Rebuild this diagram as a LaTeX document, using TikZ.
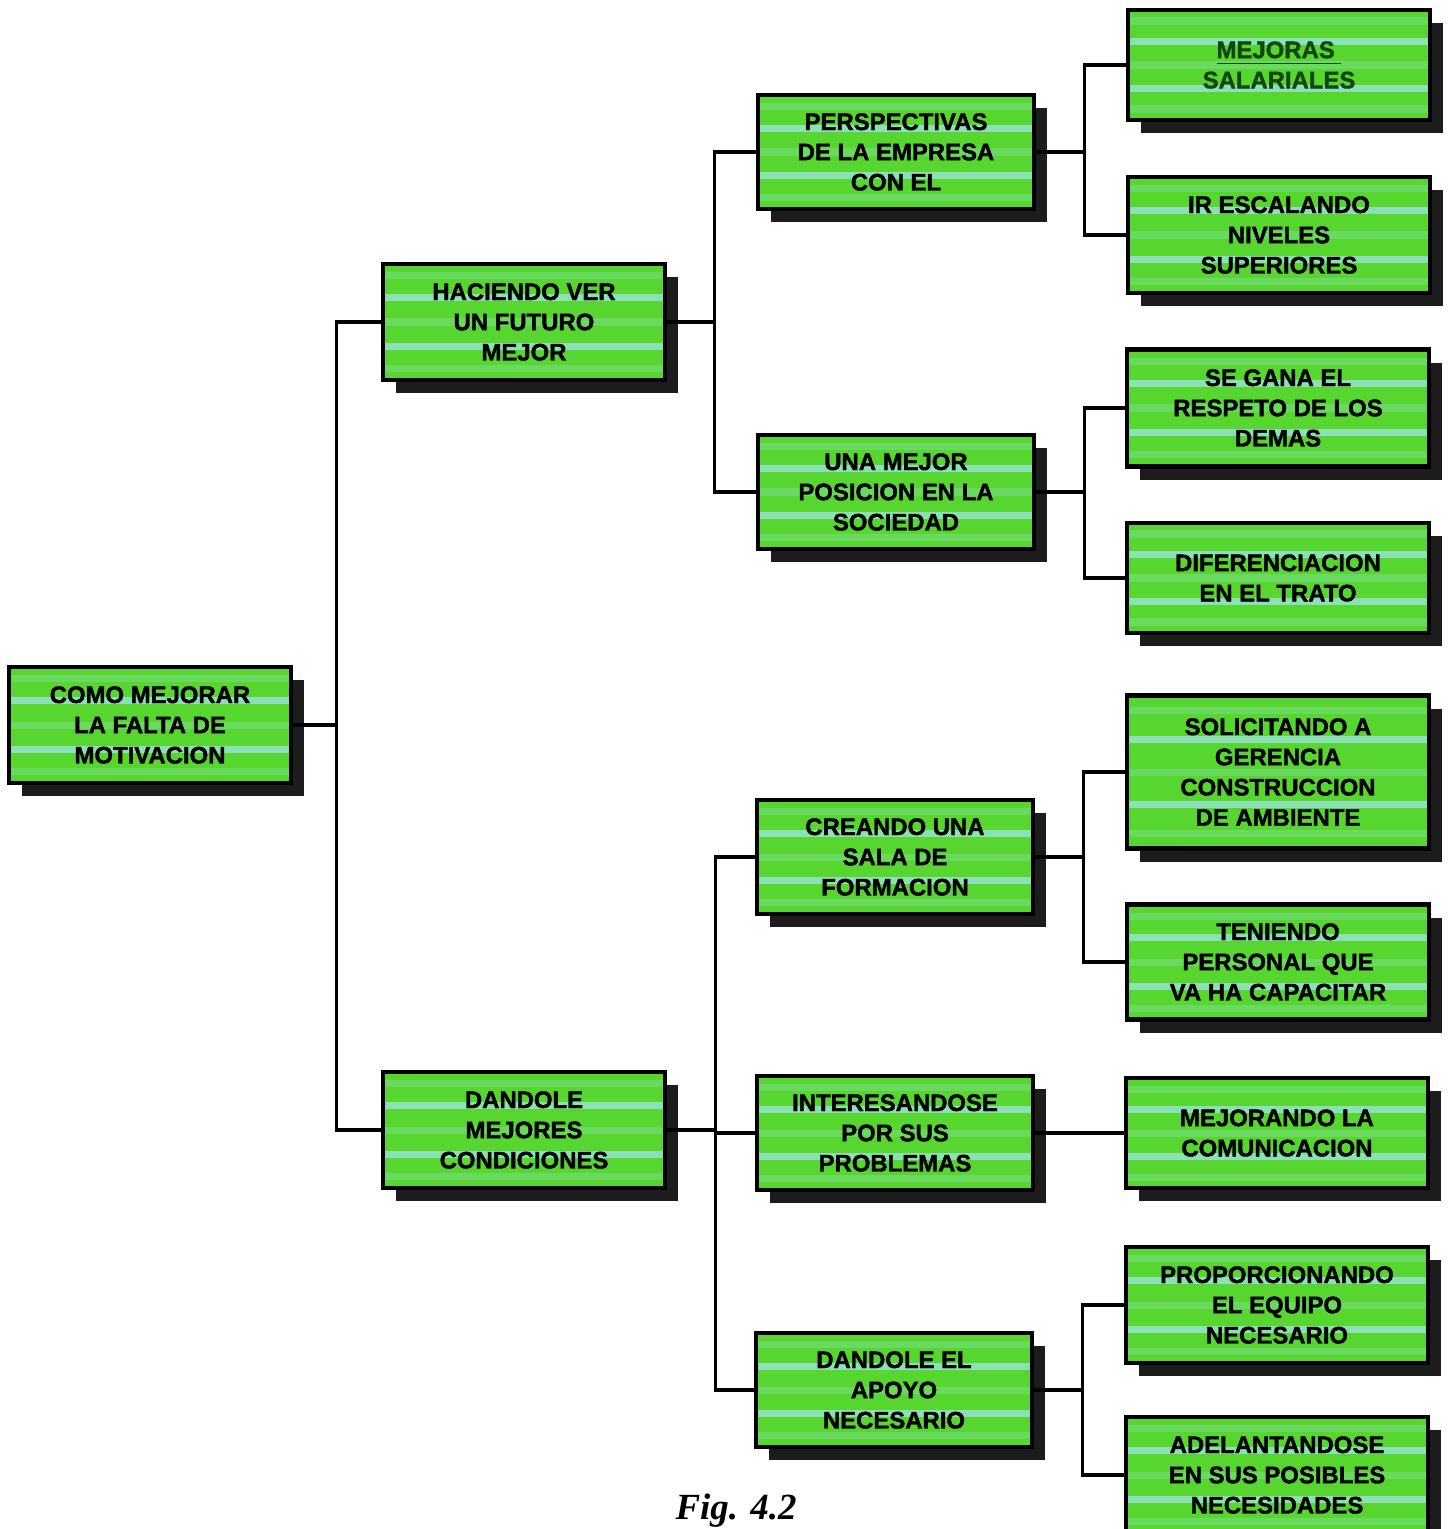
\documentclass[tikz,border=0pt]{standalone}
\usepackage{fontspec}
\usepackage{tikz}
\usetikzlibrary{positioning}
\usetikzlibrary{calc}
\usetikzlibrary{shadows}
\newfontfamily\boxfont{Liberation Sans}[BoldFeatures={FakeBold=1.6}]
\newfontfamily\capfont{Liberation Serif}
\definecolor{boxgreen}{RGB}{88,214,48}
\definecolor{stripecol}{RGB}{150,226,205}
\definecolor{shadecol}{RGB}{28,28,28}
\definecolor{darkgreen}{RGB}{18,70,20}
\tikzset{every picture/.style={
    every path/.style={line width=1pt},
}}
\tikzset{box/.style = {draw=black, line width=1.3pt, fill=boxgreen,
    align=center, inner sep=0pt,
    font=\boxfont\bfseries\fontsize{6.8}{8.6}\selectfont,
    general shadow={fill=shadecol, shadow xshift=0.13cm, shadow yshift=-0.13cm},
    path picture={
      \foreach \f/\o in {0.1/0.3,0.29/0.85,0.5/0.3,0.71/0.85,0.9/0.3}
        \draw[stripecol, line width=2pt, opacity=\o]
          ($(path picture bounding box.north west)!\f!(path picture bounding box.south west)$) --
          ($(path picture bounding box.north east)!\f!(path picture bounding box.south east)$);
    }}}
\tikzset{lvlone/.style = {box, minimum width=2.82cm, minimum height=1.16cm}}
\tikzset{lvltwo/.style = {box, minimum width=2.76cm, minimum height=1.14cm}}
\tikzset{lvlthree/.style = {box, minimum width=3.02cm, minimum height=1.14cm}}

\begin{document}
\begin{tikzpicture}
    \useasboundingbox (0,0) rectangle (14.53,-15.29);
    % boxes
    \node[lvlone] (root) at (1.50,-7.25) {COMO MEJORAR\\LA FALTA DE\\MOTIVACION};
    \node[lvlone] (futuro) at (5.24,-3.22) {HACIENDO VER\\UN FUTURO\\MEJOR};
    \node[lvlone] (condic) at (5.24,-11.30) {DANDOLE\\MEJORES\\CONDICIONES};
    \node[lvltwo] (persp) at (8.96,-1.52) {PERSPECTIVAS\\DE LA EMPRESA\\CON EL};
    \node[lvltwo] (posic) at (8.96,-4.92) {UNA MEJOR\\POSICION EN LA\\SOCIEDAD};
    \node[lvltwo] (sala) at (8.95,-8.57) {CREANDO UNA\\SALA DE\\FORMACION};
    \node[lvltwo] (interes) at (8.95,-11.33) {INTERESANDOSE\\POR SUS\\PROBLEMAS};
    \node[lvltwo] (apoyo) at (8.94,-13.90) {DANDOLE EL\\APOYO\\NECESARIO};
    \node[lvlthree, minimum height=1.10cm, text=darkgreen] (salar) at (12.79,-0.65)
        {\underline{MEJORAS\ }\\SALARIALES};
    \node[lvlthree, minimum height=1.16cm] (niveles) at (12.79,-2.35) {IR ESCALANDO\\NIVELES\\SUPERIORES};
    \node[lvlthree, minimum height=1.17cm] (respeto) at (12.78,-4.08) {SE GANA EL\\RESPETO DE LOS\\DEMAS};
    \node[lvlthree, minimum height=1.10cm] (trato) at (12.78,-5.78) {DIFERENCIACION\\EN EL TRATO};
    \node[lvlthree, minimum height=1.53cm] (gerencia) at (12.78,-7.72) {SOLICITANDO A\\GERENCIA\\CONSTRUCCION\\DE AMBIENTE};
    \node[lvlthree, minimum height=1.15cm] (personal) at (12.78,-9.62) {TENIENDO\\PERSONAL QUE\\VA HA CAPACITAR};
    \node[lvlthree, minimum height=1.10cm] (comunic) at (12.77,-11.33) {MEJORANDO LA\\COMUNICACION};
    \node[lvlthree, minimum height=1.16cm] (equipo) at (12.77,-13.05) {PROPORCIONANDO\\EL EQUIPO\\NECESARIO};
    \node[lvlthree, minimum height=1.16cm] (necesid) at (12.77,-14.75) {ADELANTANDOSE\\EN SUS POSIBLES\\NECESIDADES};
    % connectors
    \draw (root.east) -- ++(0.43,0) coordinate (j0);
    \draw (futuro.west) -| (j0) |- (condic.west);
    \draw (futuro.east) -- ++(0.47,0) coordinate (ja);
    \draw (persp.west) -| (ja) |- (posic.west);
    \draw (condic.east) -- ++(0.48,0) coordinate (jb);
    \draw (sala.west) -| (jb) |- (apoyo.west);
    \draw (jb |- interes.west) -- (interes.west);
    \draw (persp.east) -- ++(0.48,0) coordinate (jp1);
    \draw (salar.west) -| (jp1) |- (niveles.west);
    \draw (posic.east) -- ++(0.48,0) coordinate (jp2);
    \draw (respeto.west) -| (jp2) |- (trato.west);
    \draw (sala.east) -- ++(0.48,0) coordinate (jp3);
    \draw (gerencia.west) -| (jp3) |- (personal.west);
    \draw (interes.east) -- (comunic.west);
    \draw (apoyo.east) -- ++(0.48,0) coordinate (jp5);
    \draw (equipo.west) -| (jp5) |- (necesid.west);
    % caption
    \node[anchor=base, font=\capfont\bfseries\itshape\fontsize{10.5}{12}\selectfont] (fig) at (7.36,-15.19) {Fig. 4.2};
\end{tikzpicture}
\end{document}
